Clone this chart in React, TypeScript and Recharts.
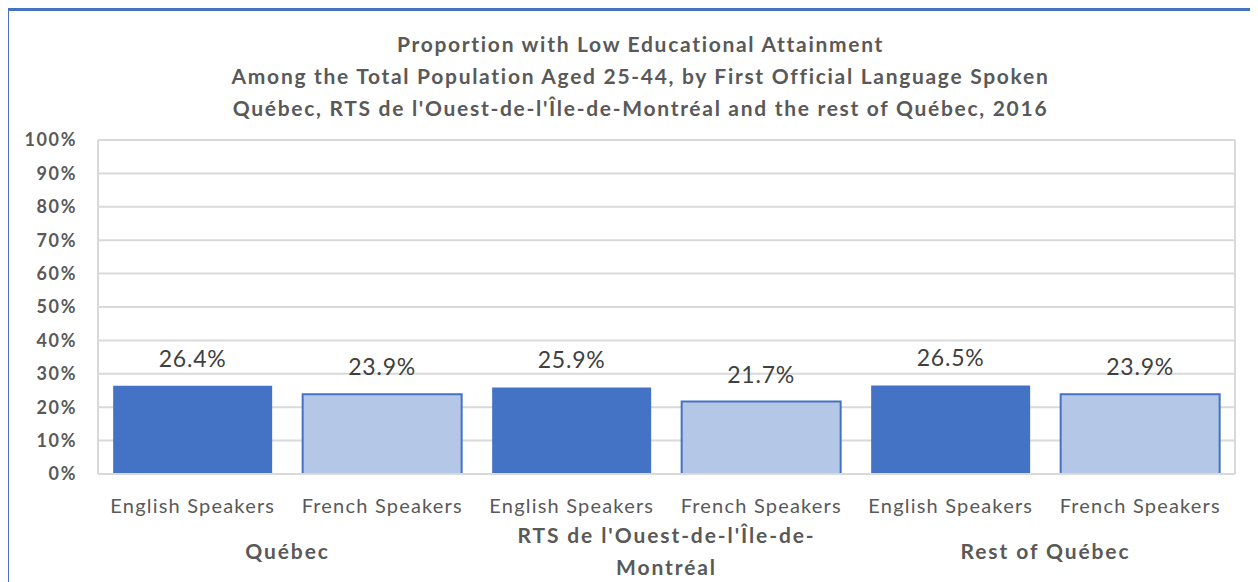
import React from 'react';
import { BarChart, Bar, XAxis, YAxis, CartesianGrid, Cell, LabelList } from 'recharts';

const TITLE_LINES = [
  'Proportion with Low Educational Attainment',
  'Among the Total Population Aged 25-44, by First Official Language Spoken',
  "Québec, RTS de l'Ouest-de-l'Île-de-Montréal and the rest of Québec, 2016",
];

const GROUPS = ['Québec', "RTS de l'Ouest-de-l'Île-de-Montréal", 'Rest of Québec'];
const SPEAKERS = ['English Speakers', 'French Speakers'];
// percent, per group: [English, French]
const ENGLISH_VALUES = [26.4, 25.9, 26.5];
const FRENCH_VALUES = [23.9, 21.7, 23.9];
const Y_TICKS = [0, 10, 20, 30, 40, 50, 60, 70, 80, 90, 100];

const DARK = '#4472C4';
const LIGHT = '#B4C7E7';
const TEXT = '#595959';
const GRID = '#D9D9D9';
const FONT = 'Lato, "Open Sans", sans-serif';

const CHART_W = 1250;
const CHART_H = 574;
const MARGIN = { top: 132, right: 23, bottom: 8, left: 20 };
const Y_AXIS_W = 70;
const PLOT_W = CHART_W - MARGIN.left - MARGIN.right - Y_AXIS_W;

const data = GROUPS.flatMap((group, g) => [
  { group, speaker: SPEAKERS[0], value: ENGLISH_VALUES[g], kind: 'en' },
  { group, speaker: SPEAKERS[1], value: FRENCH_VALUES[g], kind: 'fr' },
]);

function wrapLabel(label: string): string[] {
  if (label.length <= 24) return [label];
  const cut = label.lastIndexOf('-', 27) + 1;
  return [label.slice(0, cut), label.slice(cut)];
}

function GroupTick(props: any) {
  const { x, y, payload, index } = props;
  if (index % 2 !== 0) return null;
  const cx = x + PLOT_W / data.length / 2;
  const lines = wrapLabel(String(payload.value));
  const base = lines.length === 1 ? y + 43 : y + 26.5;
  return (
    <g>
      {lines.map((line, i) => (
        <text
          key={i}
          x={cx}
          y={base + i * 32}
          textAnchor="middle"
          fill={TEXT}
          fontFamily={FONT}
          fontWeight="bold"
          fontSize={21}
          letterSpacing={1.9}
        >
          {line}
        </text>
      ))}
    </g>
  );
}

function ValueLabel(props: any) {
  const { x, y, width, value } = props;
  return (
    <text
      x={x + width / 2}
      y={y - 19}
      textAnchor="middle"
      fill="#404040"
      fontFamily={FONT}
      fontSize={23}
      letterSpacing={0.8}
    >
      {`${Number(value).toFixed(1)}%`}
    </text>
  );
}

export default function App() {
  return (
    <div style={{ position: 'relative', width: 1250, height: 574 }}>
      <div
        style={{
          position: 'absolute',
          left: -1,
          top: 0,
          width: 1260,
          height: 590,
          borderTop: `3px solid ${DARK}`,
          borderLeft: `2px solid ${DARK}`,
          boxSizing: 'border-box',
        }}
      />
      <div
        style={{
          position: 'absolute',
          left: 0,
          top: 0,
          width: CHART_W,
          textAlign: 'center',
          fontFamily: FONT,
          fontWeight: 'bold',
          fontSize: 21,
          letterSpacing: 1.7,
          color: TEXT,
        }}
      >
        {TITLE_LINES.map((line, i) => (
          <div
            key={i}
            style={{ position: 'absolute', left: 0, width: 1265, top: 23 + i * 32, lineHeight: '26px' }}
          >
            {line}
          </div>
        ))}
      </div>
      <BarChart
        width={CHART_W}
        height={CHART_H}
        data={data}
        margin={MARGIN}
        barCategoryGap="8%"
        style={{ position: 'absolute', left: 0, top: 0 }}
      >
        <CartesianGrid
          stroke={GRID}
          strokeWidth={2}
          verticalCoordinatesGenerator={({ offset }: any) => [offset.left, offset.left + offset.width]}
        />
        <XAxis
          dataKey="speaker"
          interval={0}
          height={40}
          tickLine={false}
          tickSize={0}
          tickMargin={25}
          axisLine={{ stroke: GRID, strokeWidth: 2 }}
          tick={{ fill: TEXT, fontFamily: FONT, fontSize: 20, letterSpacing: 1.2 }}
        />
        <XAxis
          xAxisId="group"
          dataKey="group"
          interval={0}
          height={60}
          axisLine={false}
          tickLine={false}
          tickSize={0}
          tick={<GroupTick />}
        />
        <YAxis
          domain={[0, 100]}
          ticks={Y_TICKS}
          width={Y_AXIS_W}
          interval={0}
          tickLine={false}
          tickSize={0}
          tickMargin={21}
          axisLine={{ stroke: GRID, strokeWidth: 2 }}
          tickFormatter={(v: number) => `${v}%`}
          tick={{ fill: TEXT, fontFamily: FONT, fontSize: 18, fontWeight: 'bold', letterSpacing: 1.6 }}
        />
        <Bar dataKey="value" isAnimationActive={false}>
          {data.map((d, i) => (
            <Cell
              key={`cell-${i}`}
              fill={d.kind === 'en' ? DARK : LIGHT}
              stroke={d.kind === 'en' ? 'none' : DARK}
              strokeWidth={2}
            />
          ))}
          <LabelList dataKey="value" content={<ValueLabel />} />
        </Bar>
      </BarChart>
    </div>
  );
}
